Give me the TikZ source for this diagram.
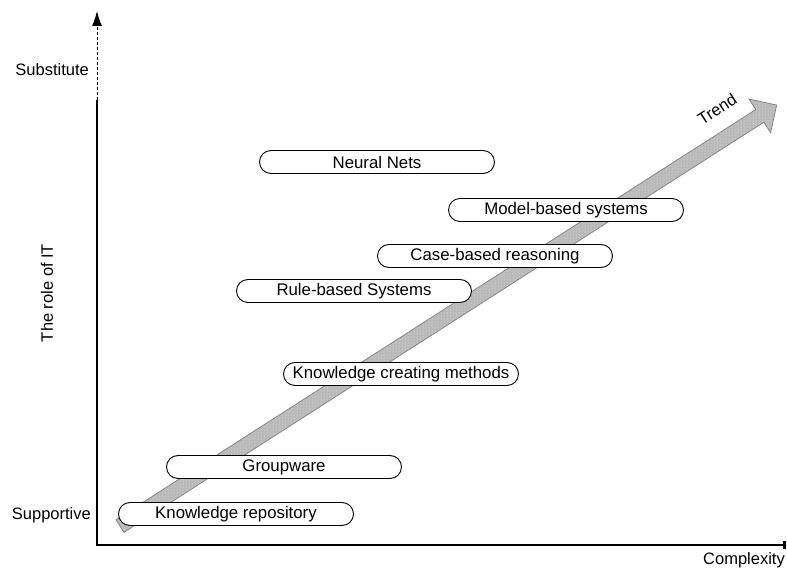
\documentclass[tikz,border=0pt]{standalone}
\usepackage{fontspec}
\setmainfont{Liberation Sans}
\usepackage{tikz}
\usepackage{xcolor}
\usetikzlibrary{
    arrows.meta,
    patterns,
    calc,
    positioning
}
\definecolor{trendfill}{RGB}{185,185,185}
\definecolor{trendline}{RGB}{135,135,135}
\tikzset{kmbox/.style={draw=black, line width=0.9pt, rounded corners=11.5pt, minimum width=235pt, minimum height=23pt, inner sep=0pt, fill=white}}
\tikzset{axlbl/.style={inner sep=0pt, font=\fontsize{16.5}{19}\selectfont}}
\tikzset{trnd/.style={draw=trendline, line width=0.8pt, preaction={fill=trendfill}, pattern=dots, pattern color=white!70!trendfill}}

\begin{document}
\begin{tikzpicture}[x=1pt, y=1pt, font=\fontsize{16.8}{19}\selectfont]
                        \useasboundingbox (0,0) rectangle (787,568);

                        % trend arrow
                        \begin{scope}[shift={(120,42)}, rotate=32.66]
                        \draw[trnd] (0,-7.5) -- (760,-7.5) -- (760,-20) -- (780,0) -- (760,20) -- (760,7.5) -- (0,7.5) -- cycle;
                        \end{scope}
                        \node[axlbl, rotate=32.66] (trend) at (717,459) {Trend};

                        % axes
                        \coordinate (orig) at (97,23);
                        \coordinate (ytop) at (97,468);
                        \coordinate (yend) at (97,557);
                        \coordinate (xend) at (786,23);
                        \draw[line width=1.3pt] (ytop) -- (orig) -- (xend);
                        \draw[line width=1.3pt, -{Rectangle[length=3pt, width=8pt]}] (orig) -- (xend);
                        \draw[line width=1pt, dash pattern=on 3pt off 2pt, -{Latex[length=15pt, width=10pt]}] (ytop) -- (yend);

                        \node[axlbl, anchor=east] (subst) at (89,498) {Substitute};
                        \node[axlbl, anchor=east] (supp) at (91,53) {Supportive};
                        \node[axlbl, anchor=north east] (cmplx) at (785,16) {Complexity};
                        \node[axlbl, rotate=90] (role) at (47,275) {The role of IT};

                        % methods
                        \node[kmbox] (krep) at (236,54) {Knowledge repository};
                        \node[kmbox] (grpw) at (284,101) {Groupware};
                        \node[kmbox] (kcm) at (401,194) {Knowledge creating methods};
                        \node[kmbox] (rbs) at (354,277) {Rule-based Systems};
                        \node[kmbox] (cbr) at (495,312) {Case-based reasoning};
                        \node[kmbox] (mbs) at (566,358) {Model-based systems};
                        \node[kmbox] (nnet) at (377,406) {Neural Nets};
                    \end{tikzpicture}
\end{document}
